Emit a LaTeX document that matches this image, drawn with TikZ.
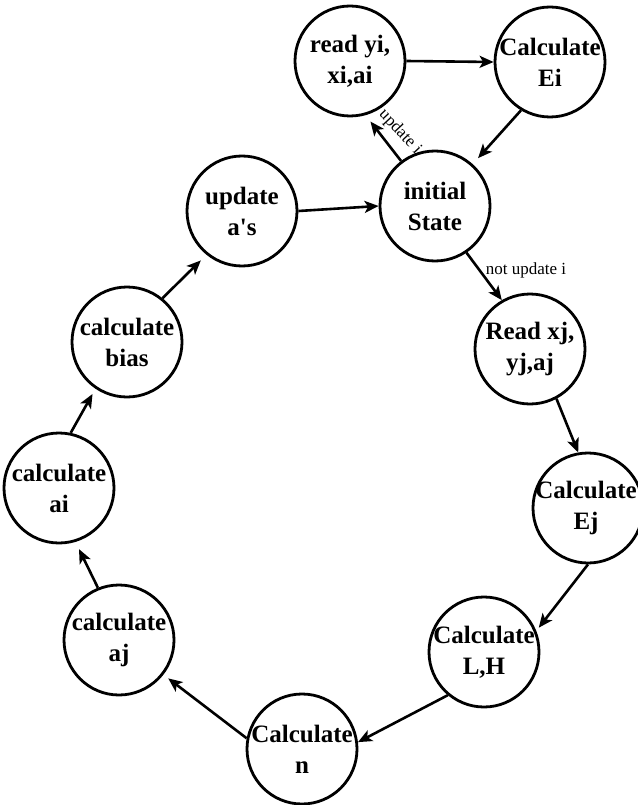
\documentclass[tikz,border=0pt]{standalone}
\usepackage{fontspec}
\setmainfont{Liberation Serif}
\usetikzlibrary{arrows.meta}
\begin{document}
\begin{tikzpicture}[x=1pt,y=-1pt,
  state/.style={circle, draw, line width=2.8pt, minimum size=110pt, inner sep=0pt},
  stext/.style={align=center, inner sep=0pt, font=\fontsize{25}{31}\selectfont\bfseries},
  flow/.style={line width=2.6pt, -{Stealth[length=14pt,width=12pt,inset=3.5pt]}},
  lbl/.style={inner sep=0pt, font=\fontsize{17}{19}\selectfont}]
\useasboundingbox (0,0) rectangle (637,805);

% states
\node[state] (rd)   at (350,61)  {};
\node[state] (ei)   at (550,62)  {};
\node[state] (init) at (435,206) {};
\node[state] (ua)   at (242,211) {};
\node[state] (bias) at (127,342) {};
\node[state] (rx)   at (530,349) {};
\node[state] (ai)   at (59,488)  {};
\node[state] (ej)   at (588,508) {};
\node[state] (lh)   at (484,652) {};
\node[state] (aj)   at (119,640) {};
\node[state] (cn)   at (302,749) {};

% state texts
\node[stext] (rdT)   at (rd)   {read yi,\\xi,ai};
\node[stext] (eiT)   at (ei)   {Calculate\\Ei};
\node[stext] (initT) at (init) {initial\\State};
\node[stext] (uaT)   at (ua)   {update\\a\textquotesingle s};
\node[stext] (biasT) at (bias) {calculate\\bias};
\node[stext] (rxT)   at (rx)   {Read xj,\\yj,aj};
\node[stext] (aiT)   at (ai)   {calculate\\ai};
\node[stext] (ejT)   at ([xshift=-2pt]ej.center) {Calculate\\Ej};
\node[stext] (lhT)   at (lh)   {Calculate\\L,H};
\node[stext] (ajT)   at (aj)   {calculate\\aj};
\node[stext] (cnT)   at (cn)   {Calculate\\n};

% transitions
\draw[flow] (rd.east) -- (ei.west);
\draw[flow, shorten >=8pt] (ei.239) -- (init.48);
\draw[flow, shorten >=8pt] (init.127) -- (rd.286);
\draw[flow] (ua.east) -- (init.west);
\draw[flow] (init.304) -- (rx.120);
\draw[flow] (rx.298) -- (ej.100);
\draw[flow, shorten >=4pt] (ej.270) -- (lh.22);
\draw[flow] (lh.230) -- (cn.7);
\draw[flow, shorten >=6pt] (cn.169) -- (aj.322);
\draw[flow, shorten >=8pt] (aj.112) -- (ai.287);
\draw[flow, shorten >=6pt] (ai.78) -- (bias.236);
\draw[flow, shorten >=8pt] (bias.51) -- (ua.231);

% transition labels
\node[lbl, rotate=-47] (updL) at (400,132) {update i};
\node[lbl] (notL) at (526,270) {not update i};
\end{tikzpicture}
\end{document}
